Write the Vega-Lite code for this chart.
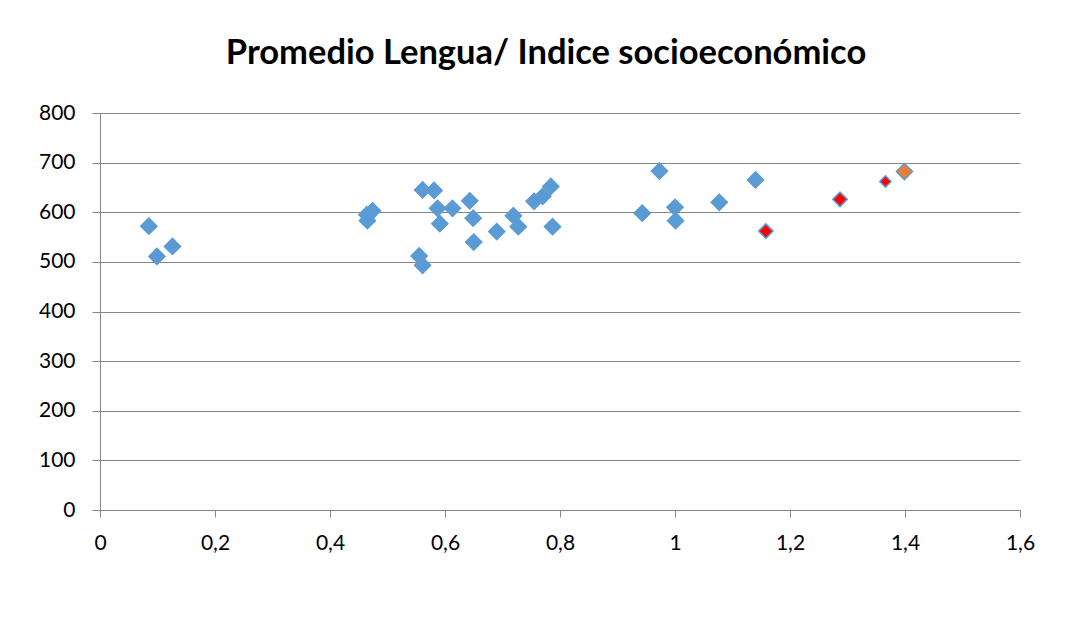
{
  "$schema": "https://vega.github.io/schema/vega-lite/v6.json",
  "width": 920,
  "height": 397,
  "autosize": "none",
  "padding": {"left": 100, "top": 113, "right": 58, "bottom": 120},
  "background": "white",
  "title": {
    "text": "Promedio Lengua/ Indice socioeconómico",
    "font": "Lato",
    "fontSize": 34.5,
    "fontWeight": "bold",
    "color": "#000000",
    "anchor": "middle",
    "dx": -14,
    "offset": 31
  },
  "data": {
    "values": [
      {"indice": 0.085, "lengua": 572, "grupo": "A"},
      {"indice": 0.099, "lengua": 511, "grupo": "A"},
      {"indice": 0.126, "lengua": 531, "grupo": "A"},
      {"indice": 0.464, "lengua": 595, "grupo": "A"},
      {"indice": 0.474, "lengua": 603, "grupo": "A"},
      {"indice": 0.465, "lengua": 583, "grupo": "A"},
      {"indice": 0.561, "lengua": 645, "grupo": "A"},
      {"indice": 0.581, "lengua": 644, "grupo": "A"},
      {"indice": 0.587, "lengua": 608, "grupo": "A"},
      {"indice": 0.613, "lengua": 608, "grupo": "A"},
      {"indice": 0.591, "lengua": 577, "grupo": "A"},
      {"indice": 0.643, "lengua": 623, "grupo": "A"},
      {"indice": 0.649, "lengua": 588, "grupo": "A"},
      {"indice": 0.65, "lengua": 540, "grupo": "A"},
      {"indice": 0.555, "lengua": 512, "grupo": "A"},
      {"indice": 0.561, "lengua": 493, "grupo": "A"},
      {"indice": 0.69, "lengua": 561, "grupo": "A"},
      {"indice": 0.719, "lengua": 593, "grupo": "A"},
      {"indice": 0.7275, "lengua": 571, "grupo": "A"},
      {"indice": 0.755, "lengua": 622, "grupo": "A"},
      {"indice": 0.77, "lengua": 632, "grupo": "A"},
      {"indice": 0.784, "lengua": 652, "grupo": "A"},
      {"indice": 0.787, "lengua": 571, "grupo": "A"},
      {"indice": 0.973, "lengua": 683, "grupo": "A"},
      {"indice": 0.943, "lengua": 598, "grupo": "A"},
      {"indice": 1.0, "lengua": 610, "grupo": "A"},
      {"indice": 1.001, "lengua": 583, "grupo": "A"},
      {"indice": 1.077, "lengua": 620, "grupo": "A"},
      {"indice": 1.14, "lengua": 665, "grupo": "A"},
      {"indice": 1.158, "lengua": 562, "grupo": "B"},
      {"indice": 1.287, "lengua": 626, "grupo": "B"},
      {"indice": 1.366, "lengua": 662, "grupo": "C"},
      {"indice": 1.399, "lengua": 682, "grupo": "D"}
    ]
  },
  "mark": {"type": "point", "shape": "diamond", "filled": true, "opacity": 1, "stroke": "#5B9BD5", "strokeWidth": 1.5},
  "encoding": {
    "x": {
      "field": "indice",
      "type": "quantitative",
      "scale": {"domain": [0, 1.6], "nice": false, "zero": false},
      "axis": {
        "title": null,
        "values": [0, 0.2, 0.4, 0.6, 0.8, 1, 1.2, 1.4, 1.6],
        "labelExpr": "replace(format(datum.value, '.1~f'), '.', ',')",
        "grid": false,
        "domainColor": "#868686",
        "tickColor": "#868686",
        "tickSize": 7,
        "labelFont": "Lato",
        "labelFontSize": 21,
        "labelColor": "#000000",
        "labelPadding": 15,
        "labelFlush": false
      }
    },
    "y": {
      "field": "lengua",
      "type": "quantitative",
      "scale": {"domain": [0, 800], "nice": false},
      "axis": {
        "title": null,
        "values": [0, 100, 200, 300, 400, 500, 600, 700, 800],
        "grid": true,
        "gridColor": "#868686",
        "gridWidth": 1,
        "domainColor": "#868686",
        "tickColor": "#868686",
        "tickSize": 8,
        "labelFont": "Lato",
        "labelFontSize": 21,
        "labelColor": "#000000",
        "labelPadding": 17,
        "labelFlush": false
      }
    },
    "color": {
      "field": "grupo",
      "type": "nominal",
      "scale": {"domain": ["A", "B", "C", "D"], "range": ["#5B9BD5", "#FF0000", "#FF0000", "#ED7D31"]},
      "legend": null
    },
    "size": {
      "field": "grupo",
      "type": "nominal",
      "scale": {"type": "ordinal", "domain": ["A", "B", "C", "D"], "range": [260, 210, 130, 260]},
      "legend": null
    }
  },
  "config": {
    "view": {"stroke": null}
  }
}
